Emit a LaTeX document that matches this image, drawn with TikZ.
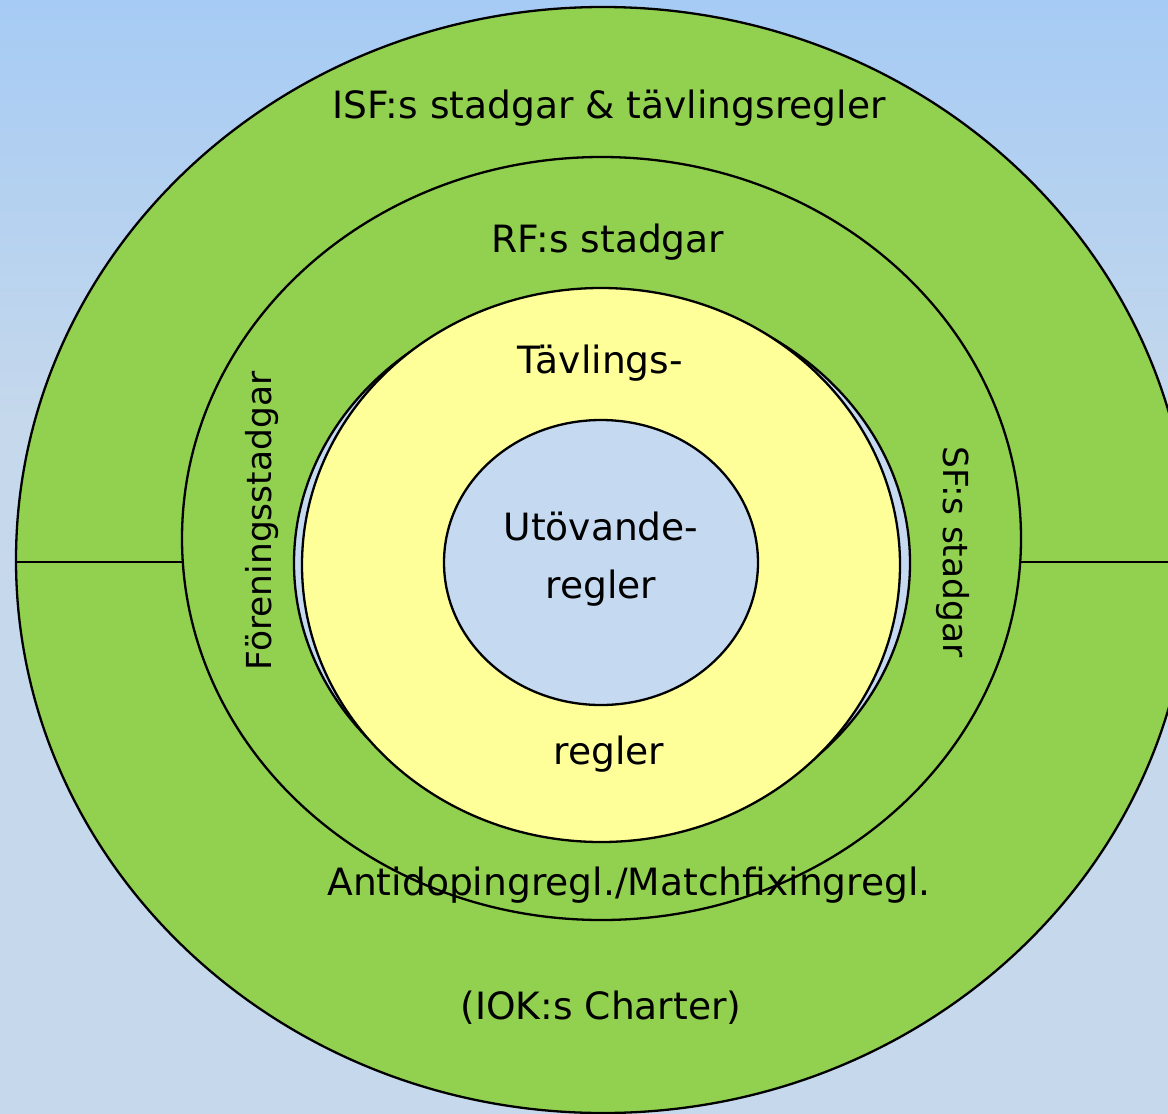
\documentclass[tikz,border=0pt]{standalone}
\usepackage{fontspec}
\setmainfont{DejaVu Sans}
\definecolor{bgbot}{RGB}{197,216,236}
\definecolor{bgtop}{RGB}{166,203,244}
\definecolor{grn}{RGB}{146,208,80}
\definecolor{ylw}{RGB}{255,255,153}
\definecolor{lblue}{RGB}{197,217,241}
\begin{document}
\begin{tikzpicture}[x=0.5pt, y=-0.5pt, font=\fontsize{18.8}{22}\selectfont, line join=round, line cap=round,
  ring/.style={draw=black, line width=1.15pt},
  lbl/.style={anchor=base, inner sep=0pt},
  side/.style={inner sep=0pt, font=\fontsize{17.2}{20}\selectfont}]
\useasboundingbox (0,0) rectangle (1168,1114);
\fill[bgbot] (0,0) rectangle (1168,1114);
\shade[top color=bgtop, bottom color=bgbot] (0,0) rectangle (1168,420);
\begin{scope}
\clip (0,0) rectangle (1168,1114);
% outer ring and the split line
\filldraw[ring, fill=grn] (603,560) ellipse [x radius=587, y radius=553];
\draw[ring] (16,562)coordinate(L1)--(182,562)coordinate(L2);
\draw[ring] (1021,562)coordinate(R1)--(1190,562)coordinate(R2);
\filldraw[ring, fill=grn] (601.5,538.5) ellipse [x radius=419.5, y radius=381.5];
% inner rings
\filldraw[ring, fill=lblue] (602,563) ellipse [x radius=308, y radius=270];
\filldraw[ring, fill=ylw] (601,565) ellipse [x radius=299, y radius=277];
\filldraw[ring, fill=lblue] (601,562.5) ellipse [x radius=157, y radius=142.5];
\end{scope}
\node[lbl] (isf) at (609,118) {ISF:s stadgar \& tävlingsregler};
\node[lbl] (rf) at (608,252) {RF:s stadgar};
\node[lbl] (tavl) at (600,373) {Tävlings-};
\node[lbl] (tavlb) at (609,764) {regler};
\node[lbl] (utov) at (601,540) {Utövande-};
\node[lbl] (utovb) at (601,598) {regler};
\node[lbl] (anti) at (629,895) {Antidopingregl./Matchfixingregl.};
\node[lbl] (iok) at (601,1019) {(IOK:s Charter)};
\node[side, rotate=90] (foren) at (262,521) {Föreningsstadgar};
\node[side, rotate=-90] (sf) at (953,552) {SF:s stadgar};
\end{tikzpicture}
\end{document}
